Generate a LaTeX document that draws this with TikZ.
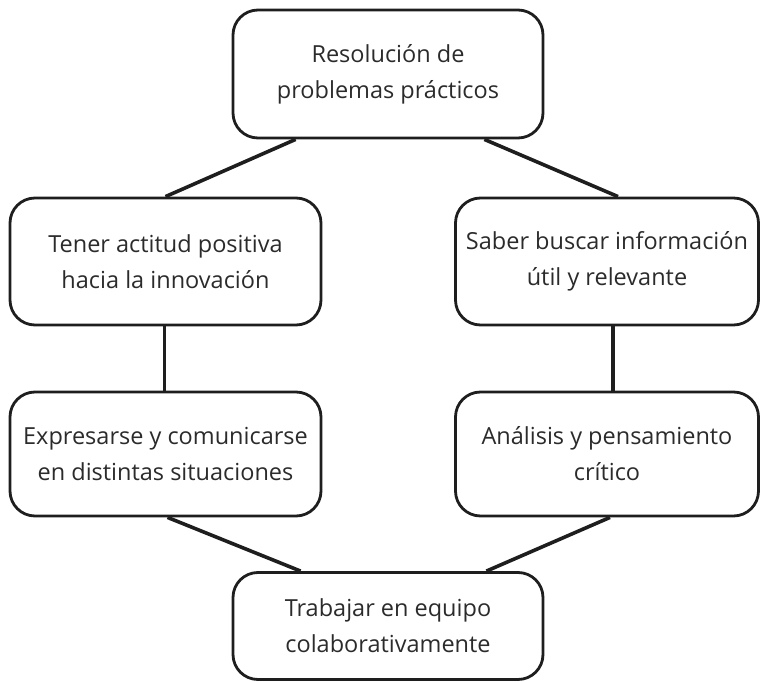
\documentclass[tikz,border=0pt]{standalone}
\usepackage{fontspec}
\setmainfont{Open Sans}
\definecolor{txt}{HTML}{2B2B2B}
\definecolor{ln}{HTML}{1E1E1E}
\begin{document}
\begin{tikzpicture}[x=1pt,y=-1pt,
  box/.style={draw=ln, line width=2.8pt, rounded corners=25pt, align=center,
    text=txt, font=\fontsize{23.5}{36}\selectfont, inner sep=0pt},
  conn/.style={draw=ln, line width=3.6pt}]
\useasboundingbox (0,0) rectangle (761,682);
\node[box, minimum width=310pt, minimum height=128pt] (top) at (388,74) {Resolución de\\problemas prácticos};
\node[box, minimum width=311pt, minimum height=127pt] (ten) at (165.5,261.5) {Tener actitud positiva\\hacia la innovación};
\node[box, minimum width=303pt, minimum height=127pt] (sab) at (607,261.5) {Saber buscar información\\útil y relevante};
\node[box, minimum width=311pt, minimum height=124pt] (exp) at (165.5,454) {Expresarse y comunicarse\\en distintas situaciones};
\node[box, minimum width=303pt, minimum height=124pt] (ana) at (607,454) {Análisis y pensamiento\\crítico};
\node[box, minimum width=310pt, minimum height=107pt] (bot) at (388,626) {Trabajar en equipo\\colaborativamente};
\draw[conn] ([xshift=64pt]top.south west) -- (ten.north);
\draw[conn] ([xshift=-60pt]top.south east) -- ([xshift=11pt]sab.north);
\draw[conn] ([xshift=-1pt]ten.south) -- ([xshift=-1pt]exp.north);
\draw[conn] ([xshift=6pt]sab.south) -- ([xshift=6pt]ana.north);
\draw[conn] ([xshift=2pt]exp.south) -- ([xshift=69pt]bot.north west);
\draw[conn] ([xshift=3pt]ana.south) -- ([xshift=-58pt]bot.north east);
\end{tikzpicture}
\end{document}
